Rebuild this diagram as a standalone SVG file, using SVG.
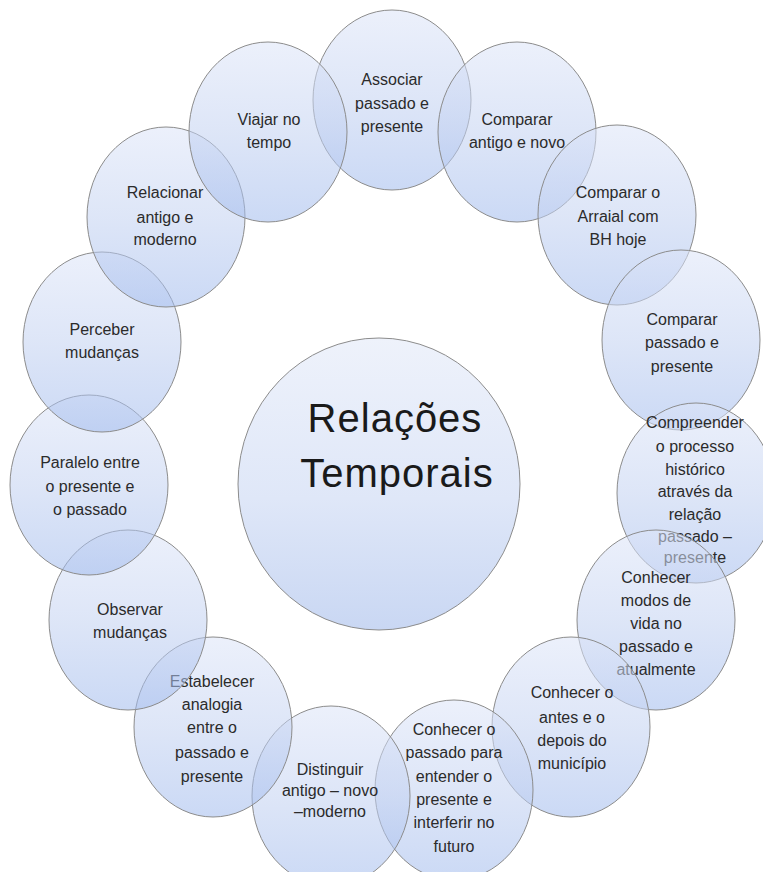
<svg xmlns="http://www.w3.org/2000/svg" width="763" height="872" viewBox="0 0 763 872">
  <defs>
    <linearGradient id="bubbleFill" x1="0" y1="0" x2="0" y2="1">
      <stop offset="0" stop-color="#dce4f8"/>
      <stop offset="0.5" stop-color="#c2d1f1"/>
      <stop offset="1" stop-color="#a0baed"/>
    </linearGradient>
    <linearGradient id="hubFill" x1="0" y1="0" x2="0" y2="1">
      <stop offset="0" stop-color="#eef2fb"/>
      <stop offset="0.55" stop-color="#dfe7f8"/>
      <stop offset="1" stop-color="#c9d7f3"/>
    </linearGradient>
  </defs>
  <style>
    .bubble { fill: url(#bubbleFill); fill-opacity: 0.55; stroke: #8c8c8c; stroke-width: 1; }
    .hub { fill: url(#hubFill); stroke: #8c8c8c; stroke-width: 1; }
    .lbl { font-family: "Liberation Sans", Arial, sans-serif; font-size: 16px; fill: #2b2b2b; text-anchor: middle; }
    .title { font-family: "Liberation Sans", Arial, sans-serif; font-size: 40px; fill: #1a1a1a; text-anchor: middle; letter-spacing: 1px; }
  </style>
  <rect width="763" height="872" fill="#ffffff"/>

  <!-- central hub -->
  <g id="hub">
    <ellipse class="hub" cx="379" cy="484" rx="141" ry="146"/>
    <text class="title" x="395" y="432">Relações</text>
    <text class="title" x="397" y="487">Temporais</text>
  </g>

  <!-- ring of topics, clockwise from the top -->
  <g id="associar">
    <ellipse class="bubble" cx="392" cy="100" rx="79" ry="90"/>
    <text class="lbl" x="392" y="85">Associar</text>
    <text class="lbl" x="392" y="109">passado e</text>
    <text class="lbl" x="392" y="132">presente</text>
  </g>
  <g id="comparar-antigo-novo">
    <ellipse class="bubble" cx="517" cy="132" rx="79" ry="90"/>
    <text class="lbl" x="517" y="125">Comparar</text>
    <text class="lbl" x="517" y="148">antigo e novo</text>
  </g>
  <g id="comparar-arraial">
    <ellipse class="bubble" cx="617" cy="215" rx="79" ry="90"/>
    <text class="lbl" x="618" y="198">Comparar o</text>
    <text class="lbl" x="618" y="222">Arraial com</text>
    <text class="lbl" x="618" y="245">BH hoje</text>
  </g>
  <g id="comparar-passado-presente">
    <ellipse class="bubble" cx="681" cy="340" rx="79" ry="90"/>
    <text class="lbl" x="682" y="325">Comparar</text>
    <text class="lbl" x="682" y="348">passado e</text>
    <text class="lbl" x="682" y="372">presente</text>
  </g>
  <g id="compreender">
    <ellipse class="bubble" cx="696" cy="493" rx="79" ry="90"/>
    <text class="lbl" x="695" y="428">Compreender</text>
    <text class="lbl" x="695" y="452">o processo</text>
    <text class="lbl" x="695" y="475">histórico</text>
    <text class="lbl" x="695" y="497">através da</text>
    <text class="lbl" x="695" y="520">relação</text>
    <text class="lbl" x="695" y="542">passado –</text>
    <text class="lbl" x="695" y="563">presente</text>
  </g>
  <g id="conhecer-modos">
    <ellipse class="bubble" cx="656" cy="620" rx="79" ry="90"/>
    <text class="lbl" x="656" y="583">Conhecer</text>
    <text class="lbl" x="656" y="606">modos de</text>
    <text class="lbl" x="656" y="629">vida no</text>
    <text class="lbl" x="656" y="652">passado e</text>
    <text class="lbl" x="656" y="675">atualmente</text>
  </g>
  <g id="conhecer-antes-depois">
    <ellipse class="bubble" cx="571" cy="727" rx="79" ry="90"/>
    <text class="lbl" x="572" y="698">Conhecer o</text>
    <text class="lbl" x="572" y="723">antes e o</text>
    <text class="lbl" x="572" y="746">depois do</text>
    <text class="lbl" x="572" y="769">município</text>
  </g>
  <g id="conhecer-passado">
    <ellipse class="bubble" cx="454" cy="790" rx="79" ry="90"/>
    <text class="lbl" x="454" y="735">Conhecer o</text>
    <text class="lbl" x="454" y="758">passado para</text>
    <text class="lbl" x="454" y="782">entender o</text>
    <text class="lbl" x="454" y="805">presente e</text>
    <text class="lbl" x="454" y="828">interferir no</text>
    <text class="lbl" x="454" y="852">futuro</text>
  </g>
  <g id="distinguir">
    <ellipse class="bubble" cx="331" cy="796" rx="79" ry="90"/>
    <text class="lbl" x="330" y="775">Distinguir</text>
    <text class="lbl" x="330" y="796">antigo – novo</text>
    <text class="lbl" x="330" y="817">–moderno</text>
  </g>
  <g id="estabelecer">
    <ellipse class="bubble" cx="213" cy="727" rx="79" ry="90"/>
    <text class="lbl" x="212" y="687">Estabelecer</text>
    <text class="lbl" x="212" y="710">analogia</text>
    <text class="lbl" x="212" y="733">entre o</text>
    <text class="lbl" x="212" y="758">passado e</text>
    <text class="lbl" x="212" y="782">presente</text>
  </g>
  <g id="observar">
    <ellipse class="bubble" cx="128" cy="620" rx="79" ry="90"/>
    <text class="lbl" x="130" y="615">Observar</text>
    <text class="lbl" x="130" y="638">mudanças</text>
  </g>
  <g id="paralelo">
    <ellipse class="bubble" cx="89" cy="485" rx="79" ry="90"/>
    <text class="lbl" x="90" y="468">Paralelo entre</text>
    <text class="lbl" x="90" y="492">o presente  e</text>
    <text class="lbl" x="90" y="515">o passado</text>
  </g>
  <g id="perceber">
    <ellipse class="bubble" cx="102" cy="342" rx="79" ry="90"/>
    <text class="lbl" x="102" y="335">Perceber</text>
    <text class="lbl" x="102" y="358">mudanças</text>
  </g>
  <g id="relacionar">
    <ellipse class="bubble" cx="166" cy="217" rx="79" ry="90"/>
    <text class="lbl" x="165" y="198">Relacionar</text>
    <text class="lbl" x="165" y="223">antigo e</text>
    <text class="lbl" x="165" y="245">moderno</text>
  </g>
  <g id="viajar">
    <ellipse class="bubble" cx="268" cy="132" rx="79" ry="90"/>
    <text class="lbl" x="269" y="125">Viajar no</text>
    <text class="lbl" x="269" y="148">tempo</text>
  </g>

  <!-- the ring has no connector lines -->
  <g id="connectors"/>
</svg>
